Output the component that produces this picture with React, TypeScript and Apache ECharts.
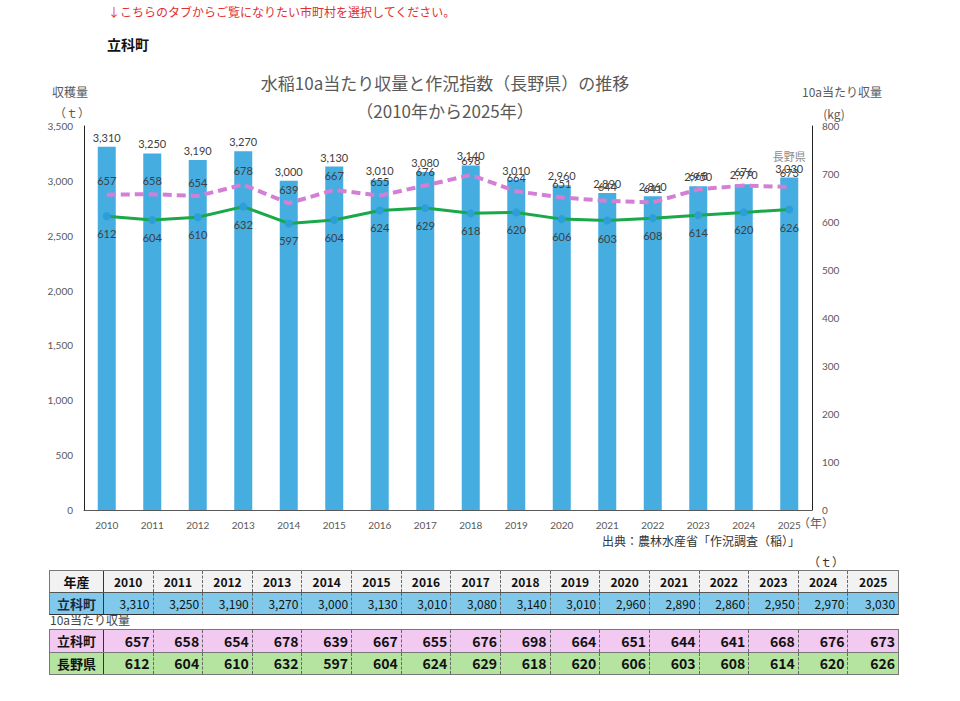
import React, { useEffect, useRef } from "react";
import * as echarts from "echarts";

const years = ["2010", "2011", "2012", "2013", "2014", "2015", "2016", "2017", "2018", "2019", "2020", "2021", "2022", "2023", "2024", "2025"];
const harvest = [3310, 3250, 3190, 3270, 3000, 3130, 3010, 3080, 3140, 3010, 2960, 2890, 2860, 2950, 2970, 3030];
const yieldTown = [657, 658, 654, 678, 639, 667, 655, 676, 698, 664, 651, 644, 641, 668, 676, 673];
const yieldPref = [612, 604, 610, 632, 597, 604, 624, 629, 618, 620, 606, 603, 608, 614, 620, 626];
const townName = "立科町";
const prefName = "長野県";

const fmt = (v: number) => v.toLocaleString("en-US");
const NUM_FONT = "Lato, 'Noto Sans', sans-serif";
const JP_FONT = "'Noto Sans CJK JP', sans-serif";

function Table() {
  const firstW = 54;
  const colW = (850 - firstW) / years.length;
  const cellBase: React.CSSProperties = {
    boxSizing: "border-box",
    width: colW,
    borderRight: "1px dashed #666",
    padding: "0 3px",
    overflow: "hidden",
    whiteSpace: "nowrap",
  };
  const firstCell: React.CSSProperties = {
    boxSizing: "border-box",
    width: firstW,
    borderRight: "1px solid #333",
    textAlign: "center",
    fontWeight: "bold",
    fontSize: 13,
  };
  const row = (h: number, bg: string, extra: React.CSSProperties = {}): React.CSSProperties => ({
    display: "flex",
    height: h,
    lineHeight: h + "px",
    background: bg,
    ...extra,
  });
  const br = (i: number) => (i === years.length - 1 ? "none" : "1px dashed #666");
  return (
    <>
      <div style={{ position: "absolute", left: 49, top: 570, width: 850, border: "1px solid #777", borderBottom: "1px solid #333", boxSizing: "border-box", fontFamily: JP_FONT, fontSize: 12, color: "#111" }}>
        <div style={row(21, "#f2f2f2", { borderBottom: "1px solid #555" })}>
          <div style={firstCell}>年産</div>
          {years.map((y, i) => (
            <div key={y} style={{ ...cellBase, textAlign: "center", fontWeight: "bold", borderRight: br(i) }}>{y}</div>
          ))}
        </div>
        <div style={row(21, "#80c9ea")}>
          <div style={{ ...firstCell, color: "#1a2a44" }}>{townName}</div>
          {harvest.map((v, i) => (
            <div key={i} style={{ ...cellBase, textAlign: "right", borderRight: br(i) }}>{fmt(v)}</div>
          ))}
        </div>
      </div>
      <div style={{ position: "absolute", left: 50, top: 611, fontFamily: JP_FONT, fontSize: 12, color: "#444" }}>10a当たり収量</div>
      <div style={{ position: "absolute", left: 49, top: 629, width: 850, border: "1px solid #777", boxSizing: "border-box", fontFamily: JP_FONT, fontSize: 14, color: "#111" }}>
        <div style={row(22, "#f2c9f0", { borderBottom: "1px solid #777" })}>
          <div style={firstCell}>{townName}</div>
          {yieldTown.map((v, i) => (
            <div key={i} style={{ ...cellBase, textAlign: "right", fontWeight: "bold", borderRight: br(i) }}>{v}</div>
          ))}
        </div>
        <div style={row(21, "#b5e3a0")}>
          <div style={firstCell}>{prefName}</div>
          {yieldPref.map((v, i) => (
            <div key={i} style={{ ...cellBase, textAlign: "right", fontWeight: "bold", borderRight: br(i) }}>{v}</div>
          ))}
        </div>
      </div>
    </>
  );
}

export default function App() {
  const ref = useRef<HTMLDivElement>(null);
  useEffect(() => {
    if (!ref.current) return;
    const chart = echarts.init(ref.current, undefined, { renderer: "svg" });
    const last = harvest.length - 1;
    chart.setOption({
      animation: false,
      backgroundColor: "#fff",
      grid: { left: 84, right: 148, top: 126, height: 384 },
      graphic: [
        { type: "text", x: 108, y: 11, style: { text: "↓こちらのタブからご覧になりたい市町村を選択してください。", fill: "#e23030", font: `12px ${JP_FONT}`, verticalAlign: "middle" } },
        { type: "text", x: 107, y: 44, style: { text: townName, fill: "#111", font: `bold 14px ${JP_FONT}`, verticalAlign: "middle" } },
        { type: "text", x: 445, y: 82, style: { text: "水稲10a当たり収量と作況指数（長野県）の推移", fill: "#595959", font: `17px ${JP_FONT}`, align: "center", verticalAlign: "middle" } },
        { type: "text", x: 445, y: 110, style: { text: "（2010年から2025年）", fill: "#595959", font: `17px ${JP_FONT}`, align: "center", verticalAlign: "middle" } },
        { type: "text", x: 70, y: 91, style: { text: "収穫量", fill: "#595959", font: `12px ${JP_FONT}`, align: "center", verticalAlign: "middle" } },
        { type: "text", x: 72, y: 112, style: { text: "（ｔ）", fill: "#595959", font: `12px ${JP_FONT}`, align: "center", verticalAlign: "middle" } },
        { type: "text", x: 842, y: 91, style: { text: "10a当たり収量", fill: "#595959", font: `12px ${JP_FONT}`, align: "center", verticalAlign: "middle" } },
        { type: "text", x: 834, y: 113, style: { text: "(kg)", fill: "#595959", font: `12px ${JP_FONT}`, align: "center", verticalAlign: "middle" } },
        { type: "text", x: 816, y: 522, style: { text: "（年）", fill: "#595959", font: `12px ${JP_FONT}`, align: "center", verticalAlign: "middle" } },
        { type: "text", x: 800, y: 540, style: { text: "出典：農林水産省「作況調査（稲）」", fill: "#333", font: `12px ${JP_FONT}`, align: "right", verticalAlign: "middle" } },
        { type: "text", x: 826, y: 561, style: { text: "（ｔ）", fill: "#333", font: `12px ${JP_FONT}`, align: "center", verticalAlign: "middle" } },
      ],
      xAxis: {
        type: "category",
        data: years,
        axisLine: { lineStyle: { color: "#595959" } },
        axisTick: { show: false },
        axisLabel: { color: "#595959", fontSize: 10, fontFamily: NUM_FONT, margin: 10 },
      },
      yAxis: [
        {
          type: "value",
          min: 0,
          max: 3500,
          interval: 500,
          splitLine: { show: false },
          axisLine: { show: true, lineStyle: { color: "#222" } },
          axisTick: { show: false },
          axisLabel: { color: "#595959", fontSize: 10, fontFamily: NUM_FONT, margin: 11, formatter: (v: number) => fmt(v) },
        },
        {
          type: "value",
          min: 0,
          max: 800,
          interval: 100,
          position: "right",
          splitLine: { show: false },
          axisLine: { show: true, lineStyle: { color: "#222" } },
          axisTick: { show: false },
          axisLabel: { color: "#595959", fontSize: 10, fontFamily: NUM_FONT, margin: 10 },
        },
      ],
      series: [
        {
          type: "bar",
          name: "収穫量",
          data: harvest,
          barWidth: 18,
          itemStyle: { color: "#45ade0" },
          label: {
            show: true,
            position: "top",
            distance: 4,
            color: "#404040",
            fontSize: 11,
            fontFamily: NUM_FONT,
            formatter: (p: any) => (p.dataIndex === last ? `{n|${prefName}}\n${fmt(p.value)}` : fmt(p.value)),
            rich: { n: { color: "#8c8c8c", fontSize: 11, fontFamily: JP_FONT, lineHeight: 14 } },
          },
        },
        {
          type: "line",
          name: townName,
          yAxisIndex: 1,
          data: yieldTown,
          symbol: "circle",
          symbolSize: 1,
          itemStyle: { color: "rgba(0,0,0,0)" },
          lineStyle: { color: "#d47fd6", width: 4, type: [9, 5] },
          label: { show: true, position: "top", distance: 8, color: "#404040", fontSize: 11, fontFamily: NUM_FONT },
          z: 3,
        },
        {
          type: "line",
          name: prefName,
          yAxisIndex: 1,
          data: yieldPref,
          symbol: "circle",
          symbolSize: 8,
          itemStyle: { color: "#2a9fd8" },
          lineStyle: { color: "#1aa84a", width: 3 },
          label: { show: true, position: "bottom", distance: 8, color: "#404040", fontSize: 11, fontFamily: NUM_FONT },
          z: 4,
        },
      ],
    });
    return () => chart.dispose();
  }, []);
  return (
    <div style={{ position: "absolute", left: 0, top: 0, width: 960, height: 701, background: "#fff", overflow: "hidden" }}>
      <div ref={ref} style={{ position: "absolute", left: 0, top: 0, width: 960, height: 570 }} />
      <Table />
    </div>
  );
}
